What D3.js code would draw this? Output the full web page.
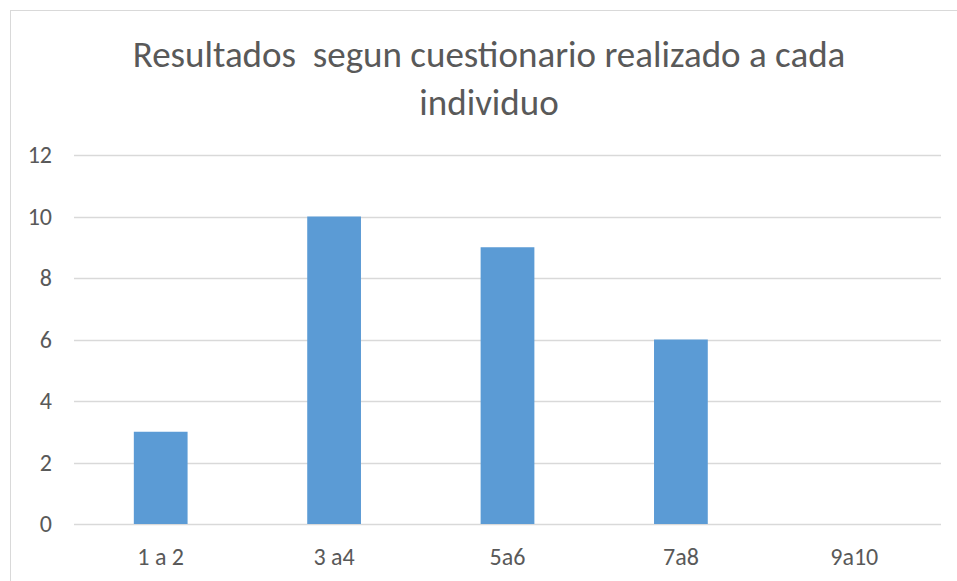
<!DOCTYPE html>
<html>
<head>
<meta charset="utf-8">
<script src="https://d3js.org/d3.v7.min.js"></script>
<style>
  body { margin: 0; background: #fff; }
  svg { font-family: Carlito, "Open Sans", sans-serif; }
</style>
</head>
<body>
<svg width="957" height="581"></svg>
<script>
const categories = ["1 a 2", "3 a4", "5a6", "7a8", "9a10"]
const values = [3, 10, 9, 6, 0]
const yTicks = [0, 2, 4, 6, 8, 10, 12]
const titleLines = ["Resultados  segun cuestionario realizado a cada", "individuo"]

const svg = d3.select("svg")
const plotLeft = 74, plotRight = 941, plotTop = 155, plotBottom = 524

// chart border
svg.append("rect")
  .attr("x", 10.5).attr("y", 10.5)
  .attr("width", 960).attr("height", 600)
  .attr("fill", "none").attr("stroke", "#d9d9d9")

var x = d3.scaleBand().domain(categories).range([plotLeft, plotRight])
  .paddingInner(0.69).paddingOuter(0.345)
var y = d3.scaleLinear().domain([0, 12]).range([plotBottom, plotTop])

// gridlines
svg.append("g").selectAll("line").data(yTicks).enter().append("line")
  .attr("x1", plotLeft).attr("x2", plotRight)
  .attr("y1", function(d){ return Math.round(y(d)) + 0.5 })
  .attr("y2", function(d){ return Math.round(y(d)) + 0.5 })
  .attr("stroke", "#d9d9d9").attr("stroke-width", 1.3)

// bars
svg.append("g").selectAll("rect").data(values).enter().append("rect")
  .attr("x", function(d, i){ return x(categories[i]) })
  .attr("y", function(d){ return y(d) })
  .attr("width", x.bandwidth())
  .attr("height", function(d){ return y(0) - y(d) })
  .attr("fill", "#5b9bd5")

// y axis labels
var yAxis = svg.append("g")
  .attr("transform", "translate(" + (plotLeft - 22) + ",0)")
  .call(d3.axisLeft(y).tickValues(yTicks).tickSize(0).tickPadding(0))
yAxis.select(".domain").remove()
yAxis.selectAll("text").attr("fill", "#595959").style("font-size", "24px")
  .style("font-family", "Carlito, 'Open Sans', sans-serif")

// x axis labels
var xAxis = svg.append("g")
  .attr("transform", "translate(0," + plotBottom + ")")
  .call(d3.axisBottom(x).tickSize(0).tickPadding(24))
xAxis.select(".domain").remove()
xAxis.selectAll("text").attr("fill", "#595959").style("font-size", "24px")
  .style("font-family", "Carlito, 'Open Sans', sans-serif")

// title
svg.append("g").selectAll("text").data(titleLines).enter().append("text")
  .attr("x", 489)
  .attr("y", function(d, i){ return 67 + i * 48 })
  .attr("text-anchor", "middle")
  .attr("fill", "#595959")
  .style("font-size", "37px")
  .style("white-space", "pre")
  .text(function(d){ return d })
</script>
</body>
</html>
